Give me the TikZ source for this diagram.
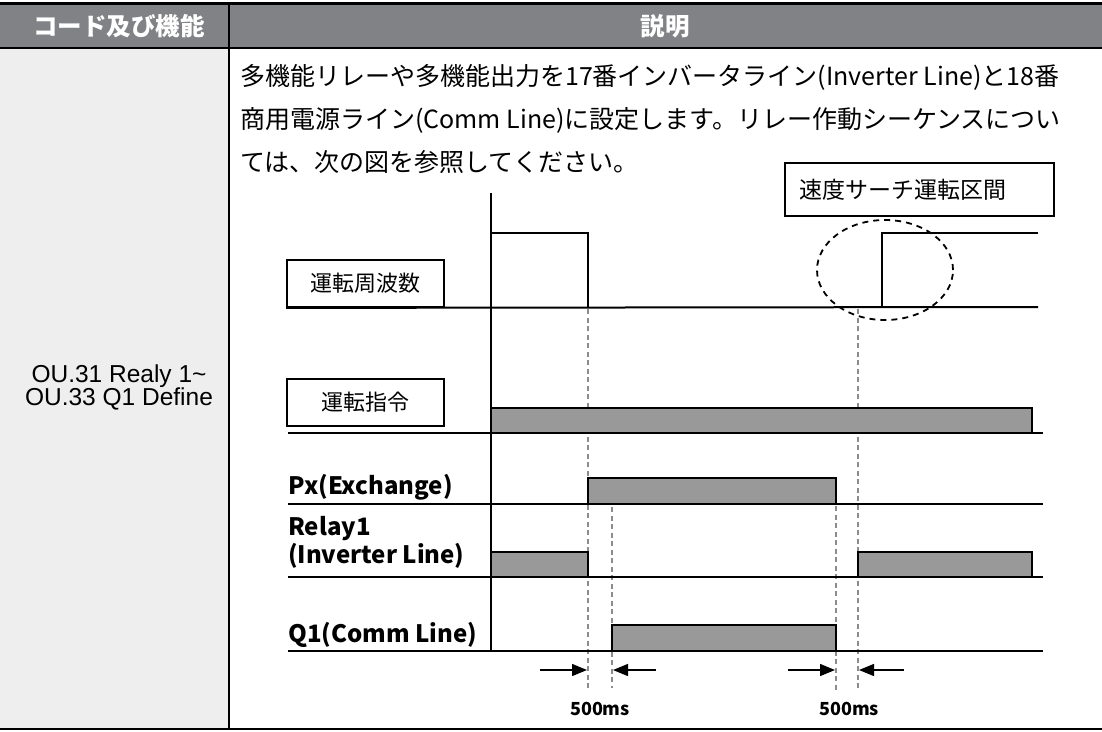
\documentclass[tikz,border=0pt]{standalone}
\usepackage{fontspec}
\setmainfont{Noto Sans CJK JP}
\newfontfamily\arialfont{Liberation Sans}
\usetikzlibrary{
    positioning,
    arrows.meta
}
\definecolor{headgray}{HTML}{808285}
\definecolor{colgray}{HTML}{EEEEEE}
\definecolor{bargray}{HTML}{999999}
\definecolor{guidegray}{HTML}{8C8C8C}
\tikzset{
    >=Stealth,
    rule/.style={line width=2pt},
    signal/.style={line width=1.6pt},
    pulse/.style={draw=black, line width=1.4pt, fill=bargray},
    guide/.style={draw=guidegray, line width=1.4pt, dash pattern=on 5pt off 3.5pt},
    labelbox/.style={
        draw,
        line width=1.8pt,
        minimum width=157pt,
        minimum height=47pt,
        inner sep=0pt,
        font=\fontsize{22}{22}\selectfont
    },
    headtext/.style={text=white, inner sep=0pt, font=\bfseries\fontsize{24.5}{24.5}\selectfont},
    bodytext/.style={anchor=base west, inner sep=0pt, font=\fontsize{25}{25}\selectfont},
    codetext/.style={anchor=base, inner sep=0pt, font=\arialfont\fontsize{24.5}{24.5}\selectfont},
    rowlabel/.style={anchor=base west, inner sep=0pt, font=\bfseries\fontsize{24}{24}\selectfont},
    gapmark/.style={-{Triangle[length=15pt,width=12pt]}, line width=1.4pt}
}
\begin{document}
\begin{tikzpicture}[
    x=1pt,
    y=-1pt
]
    \useasboundingbox (0,0) rectangle (1102,731);

    % Tabla
    \fill[headgray] (0,5) rectangle (1102,47);
    \fill[colgray] (0,49) rectangle (228,728);
    \draw[line width=3pt] (0,3.5) -- (1102,3.5);
    \draw[line width=2.5pt] (0,48) -- (1102,48);
    \draw[line width=2pt] (0,729) -- (1102,729);
    \draw[line width=2.5pt] (229,5) -- (229,729);

    \node[headtext] (hcode) at (119,26) {コード及び機能};
    \node[headtext] (hdesc) at (665,26) {説明};

    \node[codetext] (code1) at (119,382) {OU.31 Realy 1\textasciitilde};
    \node[codetext] (code2) at (119,405) {OU.33 Q1 Define};

    \node[bodytext] (line1) at (240,85) {多機能リレーや多機能出力を17番インバータライン(Inverter Line)と18番};
    \node[bodytext] (line2) at (240,128) {商用電源ライン(Comm Line)に設定します。リレー作動シーケンスについ};
    \node[bodytext] (line3) at (240,171) {ては、次の図を参照してください。};

    % Cajas de etiqueta
    \node[labelbox] (freq) at (365.5,283.5) {運転周波数};
    \node[labelbox] (cmd)  at (365.5,402.5) {運転指令};
    \node[labelbox, minimum width=269pt, minimum height=53pt] (search) at (919.5,189.5) {};
    \node[anchor=west, inner sep=0pt, font=\fontsize{23}{23}\selectfont]
        (searchtxt) at ([xshift=15pt]search.west) {速度サーチ運転区間};

    \node[rowlabel] (px)    at (288,494) {Px(Exchange)};
    \node[rowlabel] (relay) at (288,535) {Relay1};
    \node[rowlabel] (inv)   at (288,563) {(Inverter Line)};
    \node[rowlabel] (q1)    at (288,642) {Q1(Comm Line)};

    % Guias de tiempo
    \coordinate (t1) at (588,309);
    \coordinate (t2) at (612,507);
    \coordinate (t3) at (836,506);
    \coordinate (t4) at (858,309);
    \draw[guide] (t1) -- (t1 |- 0,688);
    \draw[guide] (t2) -- (t2 |- 0,688);
    \draw[guide] (t3) -- (t3 |- 0,690);
    \draw[guide] (t4) -- (t4 |- 0,690);

    % Pulsos
    \filldraw[pulse] (491,433) rectangle (1032,408);
    \filldraw[pulse] (588,504) rectangle (836,478);
    \filldraw[pulse] (491,577) rectangle (588,552);
    \filldraw[pulse] (858,577) rectangle (1032,552);
    \filldraw[pulse] (612,651) rectangle (836,625);

    % Lineas base
    \draw[rule] (freq.south west) -- (1038,307);
    \draw[rule] (288,433) -- (1043,433);
    \draw[rule] (288,504) -- (1043,504);
    \draw[rule] (288,577) -- (1043,577);
    \draw[rule] (288,651) -- (1043,651);

    % Frecuencia
    \draw[signal] (491,233) -- (588,233) -- (588,307);
    \draw[signal] (882,307) -- (882,233) -- (1038,233);

    % Eje
    \coordinate (axtop) at (491,193);
    \coordinate (axbot) at (491,652);
    \draw[rule] (axtop) -- (axbot);

    % Zona de busqueda
    \draw[line width=1.8pt, dash pattern=on 6pt off 5pt] (885,270) ellipse [x radius=68pt, y radius=50pt];

    % Retardos
    \coordinate (a1) at (540,670);
    \coordinate (a2) at (656,670);
    \coordinate (a3) at (788,670);
    \coordinate (a4) at (904,670);
    \draw[gapmark] (a1) -- (587,670);
    \draw[gapmark] (a2) -- (613,670);
    \draw[gapmark] (a3) -- (835,670);
    \draw[gapmark] (a4) -- (859,670);
    \node[anchor=base, inner sep=0pt, font=\bfseries\fontsize{18}{18}\selectfont] (d1) at (600,715) {500ms};
    \node[anchor=base, inner sep=0pt, font=\bfseries\fontsize{18}{18}\selectfont] (d2) at (849,715) {500ms};

\end{tikzpicture}
\end{document}
